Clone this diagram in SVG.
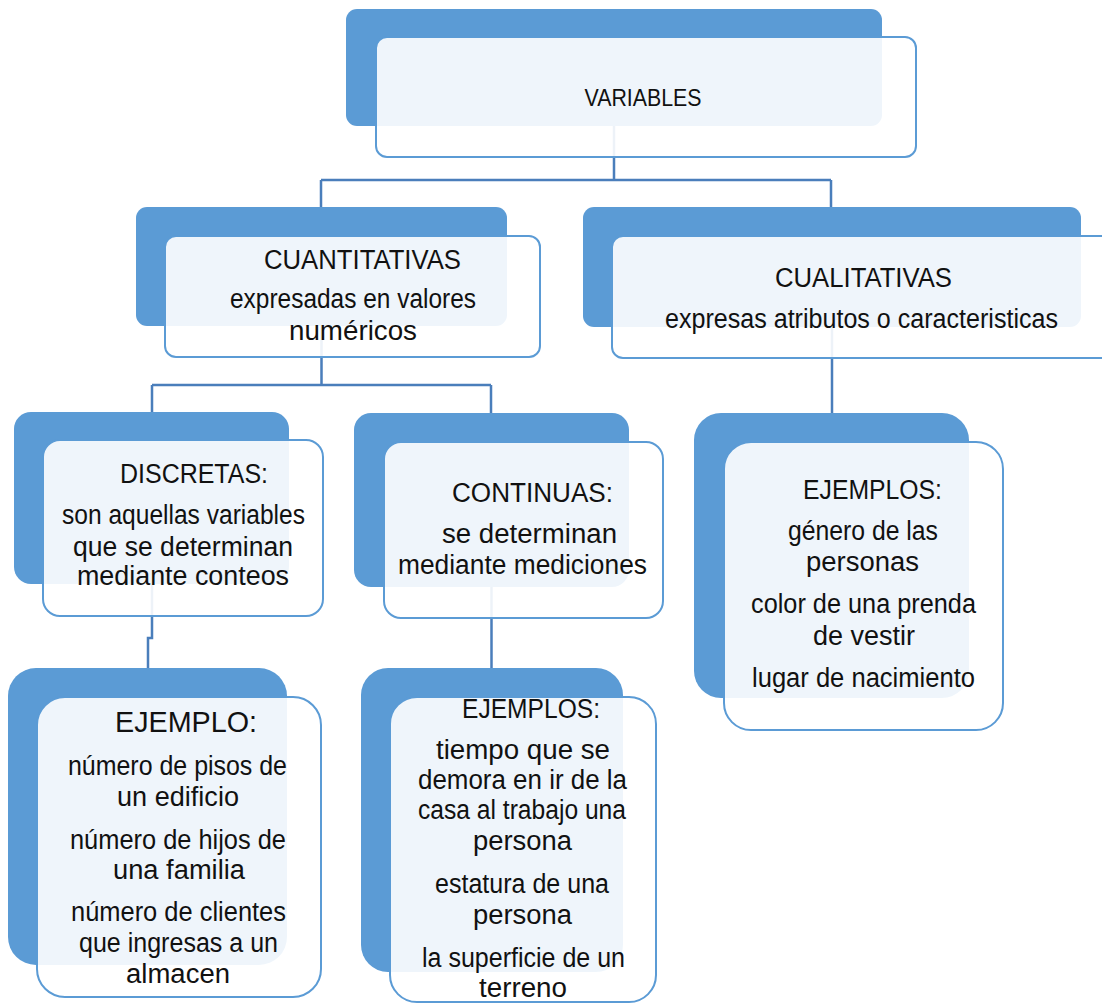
<svg xmlns="http://www.w3.org/2000/svg" width="1102" height="1003" viewBox="0 0 1102 1003">
<style>
.back{fill:#5B9BD5}
.front{fill:#FFFFFF;fill-opacity:0.9;stroke:#5B9BD5;stroke-width:2}
.conn{fill:none;stroke:#4A7EBB;stroke-width:2.5}
.t{font-family:"Liberation Sans",Arial,sans-serif;font-size:27px;fill:#111;text-anchor:middle}
.s22{font-size:24px}
.s28{font-size:29px}
</style>
<rect width="1102" height="1003" fill="#FFFFFF"/>
<g id="connectors">
<path class="conn" d="M614,126 V180 M321,180 H831 M321,180 V207 M831,180 V207"/>
<path class="conn" d="M321.5,326 V385 M152,385 H491 M152,385 V412 M491,385 V414"/>
<path class="conn" d="M832,327 V414"/>
<path class="conn" d="M152,584 V638 H148 V668"/>
<path class="conn" d="M491.5,587 V668"/>
</g>
<g id="variables">
<rect class="back" x="346" y="9" width="536" height="117" rx="11"/>
<rect class="front" x="376" y="37" width="540" height="120" rx="11"/>
<text class="t s22" x="643" y="106" textLength="117" lengthAdjust="spacingAndGlyphs">VARIABLES</text>
</g>
<g id="cuantitativas">
<rect class="back" x="136" y="207" width="371" height="119" rx="11"/>
<rect class="front" x="165" y="236" width="375" height="121" rx="11"/>
<text class="t" x="362.5" y="269" textLength="197" lengthAdjust="spacingAndGlyphs">CUANTITATIVAS</text>
<text class="t" x="353" y="308" textLength="246" lengthAdjust="spacingAndGlyphs">expresadas en valores</text>
<text class="t" x="353" y="340" textLength="128" lengthAdjust="spacingAndGlyphs">numéricos</text>
</g>
<g id="cualitativas">
<rect class="back" x="583" y="207" width="498" height="120" rx="11"/>
<rect class="front" x="612" y="236" width="502" height="122" rx="11"/>
<text class="t" x="863.5" y="287" textLength="177" lengthAdjust="spacingAndGlyphs">CUALITATIVAS</text>
<text class="t" x="861.5" y="328" textLength="393" lengthAdjust="spacingAndGlyphs">expresas atributos o caracteristicas</text>
</g>
<g id="discretas">
<rect class="back" x="14" y="412" width="275" height="172" rx="17"/>
<rect class="front" x="43" y="440" width="280" height="176" rx="17"/>
<text class="t" x="194" y="483" textLength="148" lengthAdjust="spacingAndGlyphs">DISCRETAS:</text>
<text class="t" x="183.5" y="524" textLength="243" lengthAdjust="spacingAndGlyphs">son aquellas variables</text>
<text class="t" x="183" y="556" textLength="220" lengthAdjust="spacingAndGlyphs">que se determinan</text>
<text class="t" x="183" y="585" textLength="212" lengthAdjust="spacingAndGlyphs">mediante conteos</text>
</g>
<g id="continuas">
<rect class="back" x="354" y="413" width="275" height="174" rx="17"/>
<rect class="front" x="384" y="442" width="279" height="176" rx="17"/>
<text class="t" x="532.5" y="502" textLength="161" lengthAdjust="spacingAndGlyphs">CONTINUAS:</text>
<text class="t" x="529.5" y="543" textLength="175" lengthAdjust="spacingAndGlyphs">se determinan</text>
<text class="t" x="522.5" y="574" textLength="249" lengthAdjust="spacingAndGlyphs">mediante mediciones</text>
</g>
<g id="ejemplos-cualitativas">
<rect class="back" x="694" y="413" width="275" height="285" rx="27"/>
<rect class="front" x="724" y="442" width="279" height="288" rx="27"/>
<text class="t" x="872.5" y="499" textLength="139" lengthAdjust="spacingAndGlyphs">EJEMPLOS:</text>
<text class="t" x="863" y="540" textLength="150" lengthAdjust="spacingAndGlyphs">género de las</text>
<text class="t" x="862.5" y="571" textLength="113" lengthAdjust="spacingAndGlyphs">personas</text>
<text class="t" x="863.5" y="613" textLength="225" lengthAdjust="spacingAndGlyphs">color de una prenda</text>
<text class="t" x="864" y="645" textLength="102" lengthAdjust="spacingAndGlyphs">de vestir</text>
<text class="t" x="863.5" y="687" textLength="223" lengthAdjust="spacingAndGlyphs">lugar de nacimiento</text>
</g>
<g id="ejemplo-discretas">
<rect class="back" x="8" y="668" width="279" height="297" rx="28"/>
<rect class="front" x="37" y="697" width="284" height="300" rx="28"/>
<text class="t s28" x="186" y="732" textLength="142" lengthAdjust="spacingAndGlyphs">EJEMPLO:</text>
<text class="t" x="177.5" y="775" textLength="219" lengthAdjust="spacingAndGlyphs">número de pisos de</text>
<text class="t" x="178" y="806" textLength="122" lengthAdjust="spacingAndGlyphs">un edificio</text>
<text class="t" x="178" y="849" textLength="216" lengthAdjust="spacingAndGlyphs">número de hijos de</text>
<text class="t" x="179" y="879" textLength="132" lengthAdjust="spacingAndGlyphs">una familia</text>
<text class="t" x="178.5" y="921" textLength="215" lengthAdjust="spacingAndGlyphs">número de clientes</text>
<text class="t" x="178.5" y="952" textLength="199" lengthAdjust="spacingAndGlyphs">que ingresas a un</text>
<text class="t" x="178" y="983" textLength="104" lengthAdjust="spacingAndGlyphs">almacen</text>
</g>
<g id="ejemplos-continuas">
<rect class="back" x="361" y="668" width="262" height="304" rx="27"/>
<rect class="front" x="390" y="697" width="266" height="305" rx="27"/>
<text class="t" x="531" y="718" textLength="138" lengthAdjust="spacingAndGlyphs">EJEMPLOS:</text>
<text class="t" x="523" y="759" textLength="174" lengthAdjust="spacingAndGlyphs">tiempo que se</text>
<text class="t" x="522.5" y="789" textLength="209" lengthAdjust="spacingAndGlyphs">demora en ir de la</text>
<text class="t" x="522" y="819" textLength="208" lengthAdjust="spacingAndGlyphs">casa al trabajo una</text>
<text class="t" x="522.5" y="850" textLength="99" lengthAdjust="spacingAndGlyphs">persona</text>
<text class="t" x="522" y="893" textLength="174" lengthAdjust="spacingAndGlyphs">estatura de una</text>
<text class="t" x="522.5" y="924" textLength="99" lengthAdjust="spacingAndGlyphs">persona</text>
<text class="t" x="523.5" y="967" textLength="203" lengthAdjust="spacingAndGlyphs">la superficie de un</text>
<text class="t" x="523" y="997" textLength="88" lengthAdjust="spacingAndGlyphs">terreno</text>
</g>
</svg>
